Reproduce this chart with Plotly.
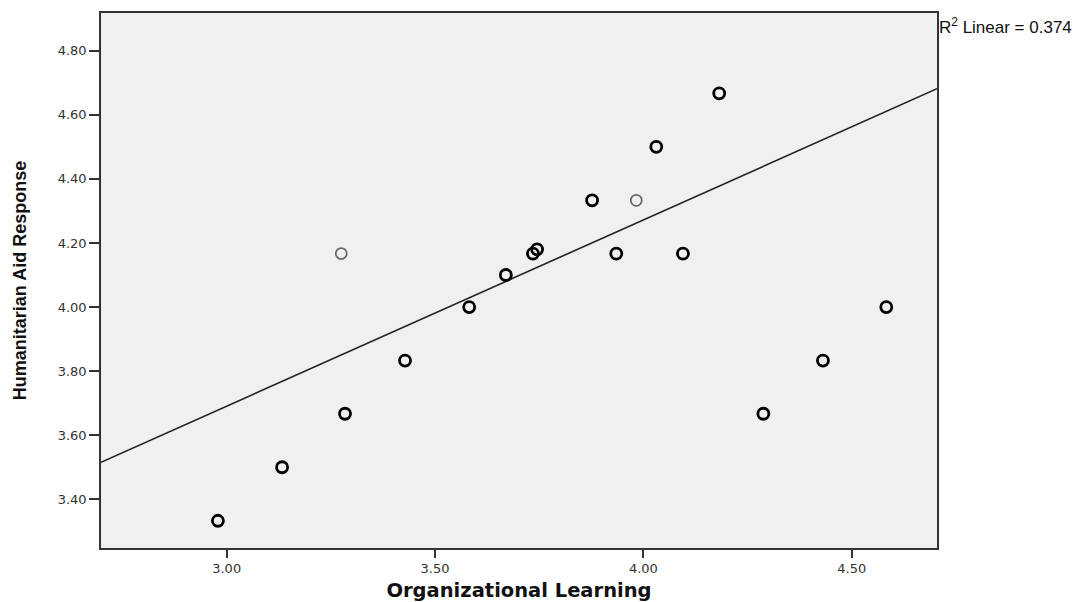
import plotly.graph_objects as go

# Scatter data (Organizational Learning vs Humanitarian Aid Response)
x_dark = [2.979, 3.133, 3.284, 3.428, 3.582, 3.670, 3.735, 3.745, 3.877, 3.935, 4.031, 4.095, 4.182, 4.288, 4.431, 4.583]
y_dark = [3.333, 3.500, 3.667, 3.833, 4.000, 4.100, 4.167, 4.180, 4.333, 4.167, 4.500, 4.167, 4.667, 3.667, 3.833, 4.000]
x_light = [3.275, 3.983]
y_light = [4.167, 4.333]

# Linear fit
fit_slope = 0.5811
fit_intercept = 1.9475
x_range = [2.6984, 4.7047]
y_range = [3.248, 4.9177]

x_ticks = [3.0, 3.5, 4.0, 4.5]
y_ticks = [3.4, 3.6, 3.8, 4.0, 4.2, 4.4, 4.6, 4.8]

fig = go.Figure()
fig.add_trace(go.Scatter(
    x=x_range, y=[fit_intercept + fit_slope * v for v in x_range],
    mode="lines", line=dict(color="#222222", width=1.6), hoverinfo="skip"))
fig.add_trace(go.Scatter(
    x=x_light, y=y_light, mode="markers",
    marker=dict(symbol="circle-open", size=11, color="#666666", line=dict(width=1.7, color="#666666"))))
fig.add_trace(go.Scatter(
    x=x_dark, y=y_dark, mode="markers",
    marker=dict(symbol="circle-open", size=11, color="#000000", line=dict(width=2.8, color="#000000"))))

axis_common = dict(
    showgrid=False, zeroline=False, showline=True, linecolor="#333333", linewidth=1.5,
    mirror=True, ticks="outside", tickwidth=1.5, tickcolor="#333333", automargin=False,
    tickfont=dict(family="DejaVu Sans", size=13, color="#333333"),
)
fig.update_xaxes(range=x_range, tickvals=x_ticks, ticktext=["3.00", "3.50", "4.00", "4.50"], ticklen=8,
                 title=dict(text="<b>Organizational Learning</b>", font=dict(family="DejaVu Sans", size=19.5, color="#111111"), standoff=16),
                 **axis_common)
fig.update_yaxes(range=y_range, tickvals=y_ticks, ticktext=[f"{v:.2f}" for v in y_ticks], ticklen=10,
                 title=dict(text="<b>Humanitarian Aid Response</b>", font=dict(family="Liberation Sans Narrow, Arial Narrow, Liberation Sans", size=18, color="#111111"), standoff=26),
                 **axis_common)

fig.add_annotation(xref="paper", yref="paper", x=1.0, y=0.976, xanchor="left", yanchor="middle",
                   text="R<sup>2</sup> Linear = 0.374", showarrow=False,
                   font=dict(family="Liberation Sans, Arial", size=17, color="#111111"))

fig.update_layout(
    width=1089, height=602, showlegend=False,
    margin=dict(l=101, r=152, t=13, b=54),
    plot_bgcolor="#F0F0F0", paper_bgcolor="white",
)
fig.write_html("out.html", config={"displayModeBar": False},
               post_script="document.body.style.margin='0';document.body.style.overflow='hidden';")
